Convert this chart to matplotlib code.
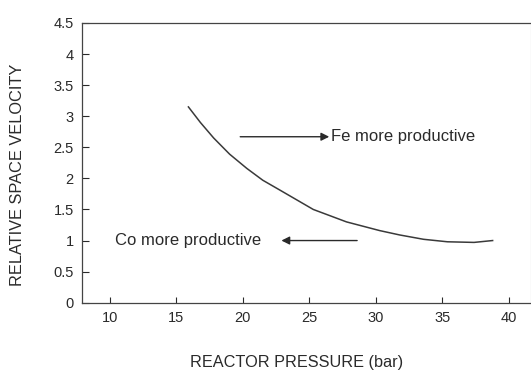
import matplotlib
matplotlib.use("Agg")
import matplotlib.pyplot as plt

# curve
pressure = [15.9, 16.8, 17.8, 19.0, 20.3, 21.5, 22.8, 25.3, 27.8,
            30.3, 31.8, 33.6, 35.4, 37.4, 38.8]
rel_sv = [3.15, 2.90, 2.65, 2.39, 2.16, 1.97, 1.81, 1.50, 1.30,
          1.16, 1.09, 1.02, 0.98, 0.97, 1.00]

x_ticks = [10, 15, 20, 25, 30, 35, 40]
y_ticks = [0, 0.5, 1, 1.5, 2, 2.5, 3, 3.5, 4, 4.5]
y_ticklabels = ['0', '0.5', '1', '1.5', '2', '2.5', '3', '3.5', '4', '4.5']

fe_arrow = [(19.8, 2.67), (26.5, 2.67)]
co_arrow = [(28.6, 1.0), (22.9, 1.0)]

ink = '#2a2a2a'
plt.rcParams['font.family'] = ['Liberation Sans', 'DejaVu Sans']


def main():
    fig = plt.figure(figsize=(5.31, 3.71), dpi=100)
    ax = fig.add_axes([82 / 531, 1 - 302.7 / 371, 448.5 / 531, (302.7 - 23) / 371])

    ax.plot(pressure, rel_sv, color='#3a3a3a', lw=1.1)

    ax.set_xlim(7.89, 41.65)
    ax.set_ylim(0, 4.5)
    ax.set_xticks(x_ticks)
    ax.set_yticks(y_ticks)
    ax.set_yticklabels(y_ticklabels)
    ax.tick_params(axis='y', direction='in', length=5, width=0.8, colors=ink,
                   labelsize=10.5, pad=6)
    ax.tick_params(axis='x', direction='in', length=4, width=0.8, colors=ink,
                   labelsize=10.5, pad=6)
    for side in ax.spines.values():
        side.set_color('#444444')
        side.set_linewidth(0.9)
    ax.spines['right'].set_color('#dddddd')

    # arrows
    ax.annotate('', xy=fe_arrow[1], xytext=fe_arrow[0],
                arrowprops=dict(arrowstyle='-|>', color=ink, lw=1.0,
                                mutation_scale=12, shrinkA=0, shrinkB=0))
    ax.text(26.6, 2.67, 'Fe more productive', fontsize=12, color=ink,
            ha='left', va='center')
    ax.annotate('', xy=co_arrow[1], xytext=co_arrow[0],
                arrowprops=dict(arrowstyle='-|>', color=ink, lw=1.0,
                                mutation_scale=12, shrinkA=0, shrinkB=0))
    ax.text(10.4, 1.0, 'Co more productive', fontsize=12, color=ink,
            ha='left', va='center')

    fig.text(18 / 531, 1 - 175 / 371, 'RELATIVE SPACE VELOCITY', rotation=90,
             ha='center', va='center', fontsize=11.8, color=ink)
    fig.text(297 / 531, 1 - 363 / 371, 'REACTOR PRESSURE (bar)',
             ha='center', va='center', fontsize=11.7, color=ink)

    fig.savefig('out.png', dpi=100)


if __name__ == "__main__":
    main()
